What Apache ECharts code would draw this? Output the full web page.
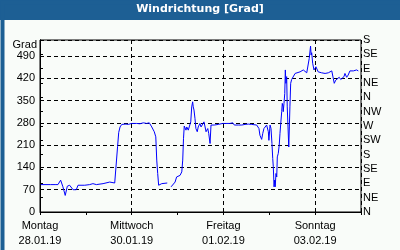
<!DOCTYPE html>
<html>
<head>
<meta charset="utf-8">
<script src="https://cdn.jsdelivr.net/npm/echarts@6/dist/echarts.min.js"></script>
<style>
html,body{margin:0;padding:0;background:#fff;}
#c{width:400px;height:250px;}
</style>
</head>
<body>
<div id="c"></div>
<script>
var titleText = 'Windrichtung [Grad]';
var yName = 'Grad';
var dayNames = ['Montag', 'Mittwoch', 'Freitag', 'Sonntag'];
var dayDates = ['28.01.19', '30.01.19', '01.02.19', '03.02.19'];
var compass = ['N','NE','E','SE','S','SW','W','NW','N','NE','E','SE','S'];
// hours since 28.01.19 00:00
var hours = [0.4,2.1,4.2,4.7,5.6,7.9,9.4,10.8,12.0,13.2,14.3,15.5,16.4,17.3,19.0,19.9,23.4,26.0,27.7,29.5,33.0,36.5,39.1,40.1,40.6,41.2,41.9,42.8,43.6,45.0,46.2,48.0,50.6,52.3,54.1,55.8,57.2,58.5,59.3,59.8,60.6,61.1,61.6,62.1,62.8,63.7,64.5,66.6,67.5,68.6,69.6,70.7,71.5,72.4,73.3,74.2,74.7,75.1,75.5,75.9,76.4,76.8,77.6,78.1,78.9,79.4,79.9,80.2,80.6,81.1,81.6,82.3,82.8,83.7,84.3,85.1,85.8,86.4,86.9,87.2,87.8,88.3,89.0,89.5,90.2,91.2,92.1,93.3,94.2,95.6,96.8,97.7,99.4,100.9,101.7,102.6,103.8,104.7,105.6,107.3,109.0,110.8,111.6,113.4,113.8,114.6,115.1,116.0,116.6,117.2,118.6,119.5,119.8,120.4,120.9,121.4,121.8,122.1,122.5,122.8,123.1,123.5,123.9,124.2,124.7,125.2,125.6,126.0,126.5,126.8,127.2,127.3,127.7,128.1,128.4,128.7,129.1,129.4,129.8,130.2,130.5,130.8,131.2,131.7,132.6,133.5,134.3,136.1,137.8,138.7,139.6,140.4,140.9,141.6,141.9,142.2,142.7,143.4,144.4,145.6,147.4,149.2,150.9,152.7,153.5,154.0,154.8,155.8,156.6,157.4,158.4,159.1,159.6,160.5,161.3,162.2,164.0,165.7,166.6];
var degrees = [86,86,86,82,86,86,86,100,79,52,81,84,81,70,70,84,84,86,89,86,89,94,91,94,205,250,267,275,278,276,275,278,278,277,280,278,280,267,262,252,236,163,121,84,81,89,87,91,'-',79,85,94,110,105,115,126,163,230,270,273,257,267,257,267,283,330,346,330,320,294,262,252,267,278,267,270,283,267,252,247,262,247,215,273,275,273,278,275,280,278,278,280,278,280,273,275,273,276,273,275,276,275,273,273,278,262,241,228,247,262,273,252,225,273,262,215,168,142,79,100,79,121,110,173,184,210,247,278,315,341,330,315,341,372,446,404,425,330,267,204,267,330,404,416,420,435,437,440,446,446,437,440,482,521,493,500,467,446,456,440,437,435,437,443,440,404,414,416,423,416,420,425,435,423,430,443,443,446,443];

var seriesData = hours.map(function(h, i){ return [h, degrees[i]]; });
var font = 'Liberation Sans, Arial, sans-serif';

var chart = echarts.init(document.getElementById('c'), null, {renderer:'canvas'});
chart.setOption({
  animation: false,
  backgroundColor: '#f9fcf9',
  grid: {left: 40, right: 39, top: 40, bottom: 38, show: true, borderColor: '#000', borderWidth: 1, backgroundColor: 'transparent'},
  graphic: [
    {type:'rect', left:0, top:0, z:-10, shape:{width:400, height:20}, style:{fill:'#1d5f94'}},
    {type:'rect', left:0, top:0, z:100, shape:{width:400, height:250}, style:{fill:'none', stroke:'#1d5f94', lineWidth:4}},
    {type:'text', left:'center', top:4, z:101, style:{text:titleText, fill:'#fff', font:'bold 11px DejaVu Sans, Verdana, sans-serif'}},
    {type:'text', right:363, top:39, style:{text:yName, fill:'#000', font:'11px ' + font}}
  ],
  xAxis: [
    {type:'value', min:0, max:168, interval:48,
     axisLine:{show:true, lineStyle:{color:'#000'}},
     axisTick:{show:true, length:3, lineStyle:{color:'#000'}},
     axisLabel:{margin:6, color:'#000', fontFamily:font, fontSize:11, lineHeight:15,
       formatter:function(v){ var i = Math.round(v/48); if (v % 48 !== 0 || i >= dayNames.length) return ''; return dayNames[i] + '\n' + dayDates[i]; }},
     splitLine:{show:true, lineStyle:{color:'#000', type:[4,3]}}},
    {type:'value', min:0, max:168, interval:24, position:'bottom',
     axisLine:{show:false}, axisTick:{show:true, length:3, lineStyle:{color:'#000'}},
     axisLabel:{show:false}, splitLine:{show:false}}
  ],
  yAxis: [
    {type:'value', min:0, max:540, interval:70, position:'left',
     axisLine:{show:true, lineStyle:{color:'#000'}},
     axisTick:{show:false},
     axisLabel:{margin:5, color:'#000', fontFamily:font, fontSize:11, showMaxLabel:false,
       formatter:function(v){ return v > 490 ? '' : String(v); }},
     splitLine:{show:true, lineStyle:{color:'#000', type:[4,3]}}},
    {type:'value', min:0, max:540, interval:45, position:'right',
     axisLine:{show:true, lineStyle:{color:'#000'}},
     axisTick:{show:true, length:3, lineStyle:{color:'#000'}},
     axisLabel:{margin:2, color:'#000', fontFamily:font, fontSize:11,
       formatter:function(v){ return compass[Math.round(v/45)] || ''; }},
     splitLine:{show:false}}
  ],
  series: [{
    type:'line', xAxisIndex:0, yAxisIndex:0, data: seriesData, showSymbol:false, symbol:'none',
    connectNulls:false, lineStyle:{color:'#0000ff', width:1}
  }]
});
</script>
</body>
</html>
